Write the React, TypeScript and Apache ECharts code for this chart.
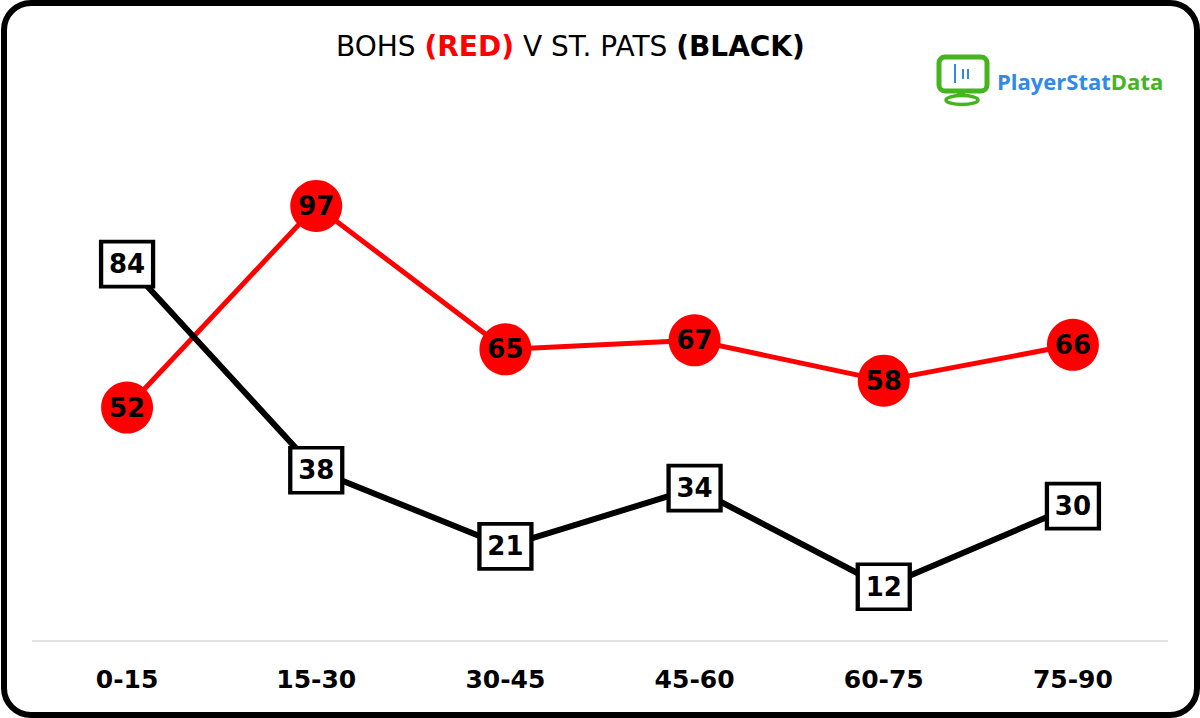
import * as echarts from 'echarts';
import { useEffect, useRef } from 'react';

const periods = ['0-15', '15-30', '30-45', '45-60', '60-75', '75-90'];
const bohsValues = [52, 97, 65, 67, 58, 66];
const patsValues = [84, 38, 21, 34, 12, 30];

const FONT = '"DejaVu Sans", Verdana, sans-serif';

function MatchChart() {
  const chartRef = useRef<HTMLDivElement>(null);

  useEffect(() => {
    const myChart = echarts.init(chartRef.current, null, { renderer: 'svg' });

    const option = {
      animation: false,
      backgroundColor: '#ffffff',
      grid: {
        left: 32.5,
        right: 32.5,
        top: 192.5,
        bottom: 77.5,
      },
      xAxis: {
        type: 'category',
        data: periods,
        axisTick: { show: false },
        axisLine: {
          lineStyle: { color: '#d9d9d9', width: 1.5 },
        },
        axisLabel: {
          margin: 26,
          color: '#000',
          fontSize: 25,
          fontWeight: 'bold',
          fontFamily: FONT,
        },
      },
      yAxis: {
        type: 'value',
        min: 0,
        max: 100,
        show: false,
        splitLine: { show: false },
      },
      graphic: [
        {
          type: 'rect',
          shape: { x: 4, y: 3, width: 1193, height: 712, r: 27 },
          style: { fill: 'none', stroke: '#000', lineWidth: 6 },
          z: 100,
        },
        {
          type: 'text',
          x: 336,
          y: 46,
          style: {
            text: 'BOHS {r|(RED)} V ST. PATS {b|(BLACK)}',
            fill: '#000',
            font: `28px ${FONT}`,
            verticalAlign: 'middle',
            rich: {
              r: { fill: '#ff0000', fontWeight: 'bold', fontSize: 28, fontFamily: FONT },
              b: { fill: '#000', fontWeight: 'bold', fontSize: 28, fontFamily: FONT },
            },
          },
        },
        // logo: monitor
        {
          type: 'rect',
          shape: { x: 939, y: 57, width: 48, height: 34, r: 6 },
          style: { fill: '#fff', stroke: '#44b51e', lineWidth: 5 },
        },
        {
          type: 'rect',
          shape: { x: 957, y: 91, width: 8, height: 5 },
          style: { fill: '#44b51e' },
        },
        {
          type: 'ellipse',
          shape: { cx: 962, cy: 100, rx: 16, ry: 4.5 },
          style: { fill: '#fff', stroke: '#44b51e', lineWidth: 3.5 },
        },
        {
          type: 'line',
          shape: { x1: 955, y1: 64, x2: 955, y2: 83 },
          style: { stroke: '#2f8ae8', lineWidth: 2 },
        },
        {
          type: 'line',
          shape: { x1: 963, y1: 69, x2: 963, y2: 79 },
          style: { stroke: '#2f8ae8', lineWidth: 2 },
        },
        {
          type: 'line',
          shape: { x1: 968, y1: 69, x2: 968, y2: 79 },
          style: { stroke: '#2f8ae8', lineWidth: 2 },
        },
        {
          type: 'text',
          x: 997,
          y: 81,
          style: {
            text: '{p|PlayerStat}{d|Data}',
            verticalAlign: 'middle',
            rich: {
              p: { fill: '#2f8ae8', fontSize: 22, fontWeight: 'bold', fontFamily: '"Open Sans", sans-serif' },
              d: { fill: '#44b51e', fontSize: 22, fontWeight: 'bold', fontFamily: '"Open Sans", sans-serif' },
            },
          },
        },
      ],
      series: [
        {
          name: 'Bohs',
          type: 'line',
          data: bohsValues,
          symbol: 'circle',
          symbolSize: 52,
          itemStyle: { color: '#ff0000' },
          lineStyle: { color: '#ff0000', width: 5 },
          label: {
            show: true,
            position: 'inside',
            color: '#000',
            fontSize: 26,
            fontWeight: 'bold',
            fontFamily: FONT,
          },
          z: 2,
        },
        {
          name: 'St Pats',
          type: 'line',
          data: patsValues,
          symbol: 'rect',
          symbolSize: [52, 45],
          itemStyle: { color: '#ffffff', borderColor: '#000', borderWidth: 4 },
          lineStyle: { color: '#000', width: 6 },
          label: {
            show: true,
            position: 'inside',
            color: '#000',
            fontSize: 26,
            fontWeight: 'bold',
            fontFamily: FONT,
          },
          z: 3,
        },
      ],
    };

    myChart.setOption(option);

    return () => {
      myChart.dispose();
    };
  }, []);

  return (
    <div
      ref={chartRef}
      style={{ position: 'fixed', left: 0, top: 0, width: '1200px', height: '718px' }}
    ></div>
  );
}

export default function App() {
  return <MatchChart />;
}
